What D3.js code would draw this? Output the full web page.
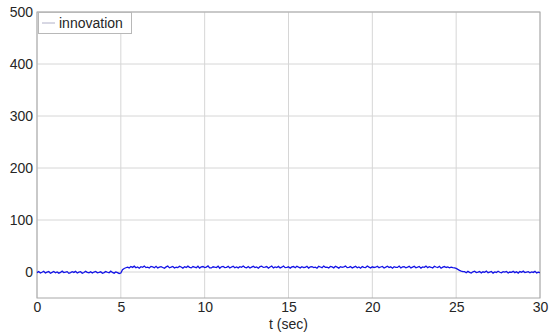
<!DOCTYPE html>
<html><head><meta charset="utf-8">
<script src="https://cdn.jsdelivr.net/npm/d3@7"></script>
<style>body{margin:0;background:#fff}svg{display:block}</style>
</head><body>
<svg id="c" width="549" height="335"></svg>
<script>
const xTicks = [0,5,10,15,20,25,30];
const yTicks = [0,100,200,300,400,500];
const seriesName = "innovation";
const xLabel = "t (sec)";
const dt = 0.1;
const innovation = [
-1.2,0.8,-2.1,-0.5,1.4,-1.8,-0.3,0.9,-2.4,-0.7,1.1,-1.5,0.2,-2.2,-0.9,1.6,-1.1,-0.4,0.7,-2.6,
-1.3,0.5,-0.8,1.2,-1.9,-0.2,0.6,-2.3,-1.0,1.3,-0.6,-1.7,0.4,-2.0,-0.1,1.0,-1.4,-0.8,0.3,-2.5,
-1.1,0.9,-0.5,-1.6,1.5,-0.9,-2.2,0.1,-1.3,-2.8,
-2.0,4.5,6.8,8.2,
9.4,7.8,10.6,8.9,11.2,8.1,9.7,7.3,10.1,9.0,
11.5,8.4,9.2,7.6,10.8,9.9,8.2,11.0,7.9,9.5,
10.3,8.7,7.1,9.8,11.4,8.0,9.3,10.7,7.7,9.1,
8.5,10.9,9.6,7.4,10.2,8.8,11.3,9.0,7.9,10.4,
9.2,8.3,11.1,7.5,9.7,10.5,8.6,9.4,11.6,8.0,
7.8,10.0,9.3,8.7,11.2,7.2,9.9,10.6,8.4,9.1,
10.8,7.6,9.5,11.0,8.2,9.7,7.9,10.3,8.9,11.4,
9.0,8.1,10.6,7.7,9.4,10.9,8.5,9.8,7.3,10.2,
11.1,8.8,9.2,10.4,7.5,9.6,11.3,8.0,9.9,8.6,
10.7,7.8,9.3,11.5,8.4,9.1,10.0,7.4,9.7,10.5,
8.2,11.2,9.5,7.9,10.3,8.7,9.0,11.0,7.6,9.8,
10.1,8.5,9.4,7.2,10.8,9.6,8.3,11.4,8.9,9.2,
7.7,10.6,9.9,8.0,11.1,9.3,7.5,10.2,8.8,9.7,
11.3,8.4,9.0,10.5,7.8,9.5,10.9,8.1,9.8,7.3,
10.4,9.1,8.6,11.6,9.4,7.9,10.0,8.7,9.2,11.0,
8.3,9.6,10.7,7.6,9.3,11.2,8.5,9.9,7.4,10.3,
9.0,8.8,11.4,7.7,9.7,10.1,8.2,9.4,10.8,7.9,
9.5,11.1,8.0,9.2,10.6,7.5,9.8,8.9,11.3,8.4,
10.2,9.1,7.8,10.9,9.6,8.6,11.0,7.3,9.3,10.5,
8.7,9.9,8.1,9.4,
8.5,8.0,7.0,5.0,3.2,1.8,0.9,
0.6,-1.4,1.2,-0.8,-2.0,0.3,1.5,-1.1,-0.2,0.9,
-1.7,0.4,-0.6,1.8,-1.3,-0.1,1.0,-2.2,0.2,-0.9,
1.4,-0.5,-1.6,0.7,-0.3,1.1,-1.9,0.0,-0.7,1.3,
-1.2,0.5,-2.1,0.8,-0.4,1.6,-1.0,-0.2,0.6,-1.5,
0.3,-0.8,1.2,-1.8,-0.5,-1.1
];

const svg = d3.select("#c");
const L = 37, R = 540, T = 12, B = 298;
const x = d3.scaleLinear().domain([0,30]).range([L,R]);
const y = d3.scaleLinear().domain([-50,500]).range([B,T]);
const font = "'Liberation Sans', Arial, Helvetica, sans-serif";

// grid
const g = svg.append("g");
g.selectAll(".vx").data(xTicks).join("line")
  .attr("x1",d=>x(d)).attr("x2",d=>x(d)).attr("y1",T).attr("y2",B)
  .attr("stroke","#d6d6d6").attr("stroke-width",1);
g.selectAll(".hy").data(yTicks).join("line")
  .attr("x1",L).attr("x2",R).attr("y1",d=>y(d)).attr("y2",d=>y(d))
  .attr("stroke","#d6d6d6").attr("stroke-width",1);

// box
svg.append("rect").attr("x",L).attr("y",T).attr("width",R-L).attr("height",B-T)
  .attr("fill","none").attr("stroke","#a8a8a8").attr("stroke-width",1);

// axes
const xAxis = d3.axisBottom(x).tickValues(xTicks).tickSize(0).tickPadding(4);
const yAxis = d3.axisLeft(y).tickValues(yTicks).tickSize(0).tickPadding(4);
const ax = svg.append("g").attr("transform",`translate(0,${B})`).call(xAxis);
const ay = svg.append("g").attr("transform",`translate(${L},0)`).call(yAxis);
[ax,ay].forEach(a=>{
  a.select(".domain").remove();
  a.selectAll("text").attr("font-family",font).attr("font-size",14).attr("fill","#262626");
});

// line
const line = d3.line().x((d,i)=>x(i*dt)).y(d=>y(d));
svg.append("path").datum(innovation).attr("d",line)
  .attr("fill","none").attr("stroke","#1414e6").attr("stroke-width",1.3);

// x label
svg.append("text").attr("x",(L+R)/2).attr("y",328.5).attr("text-anchor","middle")
  .attr("font-family",font).attr("font-size",14).attr("fill","#262626").text(xLabel);

// legend
const lg = svg.append("g");
lg.append("rect").attr("x",38.5).attr("y",12.5).attr("width",93).attr("height",21)
  .attr("fill","#fff").attr("stroke","#b8b8b8").attr("stroke-width",1);
lg.append("line").attr("x1",42).attr("x2",55).attr("y1",23).attr("y2",23)
  .attr("stroke","#b0b0c8").attr("stroke-width",1);
lg.append("text").attr("x",59).attr("y",28).attr("font-family",font).attr("font-size",14)
  .attr("fill","#262626").text(seriesName);
</script>
</body></html>
